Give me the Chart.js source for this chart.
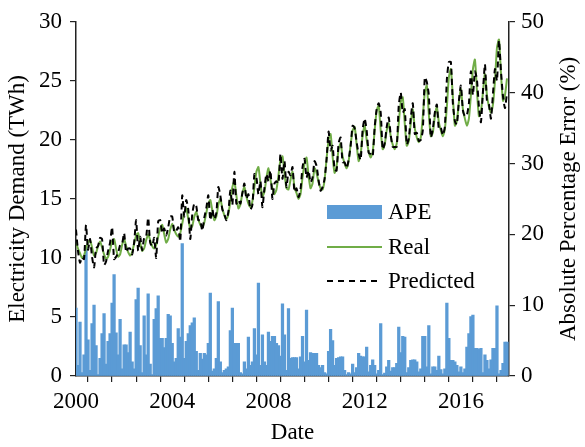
<!DOCTYPE html>
<html>
<head>
<meta charset="utf-8">
<script src="https://cdn.jsdelivr.net/npm/chart.js@4.4.1/dist/chart.umd.min.js"></script>
<style>
  html, body { margin: 0; padding: 0; background: #fff; }
  #wrap { width: 585px; height: 447px; }
</style>
</head>
<body>
<div id="wrap"><canvas id="demandChart" width="585" height="447"></canvas></div>
<script>
// monthly series, Jan 2000 .. Dec 2017 (one row per year)
const startYear = 2000;

const real = [
  11.3, 10.8, 10.4, 10.0, 10.2, 10.8, 11.3, 11.5, 10.9, 10.2, 10.4, 11.0,
  11.4, 10.9, 10.3, 9.9, 10.1, 10.7, 11.4, 11.6, 10.8, 10.1, 10.3, 11.1,
  11.6, 11.0, 10.5, 10.2, 10.5, 11.2, 11.9, 12.1, 11.3, 10.6, 10.8, 11.5,
  12.0, 11.5, 11.0, 10.8, 11.1, 11.8, 12.5, 12.8, 12.0, 11.3, 11.6, 12.4,
  12.9, 12.4, 12.0, 11.8, 12.1, 12.9, 13.8, 14.2, 13.3, 12.5, 12.7, 13.5,
  13.9, 13.3, 12.8, 12.6, 13.0, 13.8, 14.6, 14.9, 14.0, 13.2, 13.5, 14.5,
  15.0, 14.2, 13.6, 13.3, 13.7, 14.8, 16.0, 16.5, 15.3, 14.2, 14.5, 15.5,
  16.0, 15.2, 14.6, 14.3, 14.8, 16.0, 17.3, 17.7, 16.3, 15.2, 15.6, 16.8,
  17.6, 16.6, 15.9, 15.4, 15.8, 17.0, 18.3, 18.6, 17.2, 15.9, 15.8, 16.6,
  17.3, 16.0, 15.5, 15.0, 15.4, 16.8, 18.0, 18.5, 17.0, 15.9, 16.3, 17.6,
  17.2, 16.4, 15.9, 15.8, 16.6, 18.4, 20.0, 20.5, 18.6, 17.2, 17.8, 19.2,
  19.7, 18.6, 18.0, 17.6, 18.2, 19.6, 20.8, 21.1, 19.6, 18.2, 18.8, 20.4,
  21.2, 20.0, 19.0, 18.5, 19.0, 20.8, 22.5, 22.9, 20.8, 19.2, 19.6, 20.8,
  21.4, 20.3, 19.6, 19.2, 19.7, 21.4, 23.2, 23.6, 21.4, 19.5, 19.9, 21.4,
  22.6, 21.0, 20.2, 19.8, 20.2, 22.0, 24.0, 24.6, 22.2, 20.3, 20.6, 22.0,
  22.8, 21.5, 20.8, 20.3, 20.9, 22.8, 25.3, 26.0, 23.6, 21.2, 21.6, 23.2,
  24.3, 22.6, 21.8, 21.2, 21.8, 23.8, 26.0, 26.8, 24.2, 22.0, 22.4, 24.0,
  25.6, 23.8, 22.8, 22.3, 23.0, 25.0, 27.8, 28.5, 25.6, 23.3, 23.8, 25.2
];

const predicted = [
  12.4, 10.6, 9.6, 10.05, 9.9, 12.8, 10.7, 11.6, 10.1, 9.2, 10.8, 11.0,
  11.7, 11.6, 9.4, 9.7, 10.6, 11.3, 12.6, 9.9, 10.1, 10.4, 11.1, 11.2,
  12.1, 10.5, 10.8, 10.8, 10.3, 11.3, 13.2, 10.6, 11.8, 10.65, 11.7, 11.8,
  13.4, 11.3, 11.0, 11.7, 10.0, 13.1, 13.2, 12.1, 12.5, 11.9, 12.6, 13.5,
  13.5, 12.2, 12.3, 12.6, 11.4, 15.3, 13.5, 14.9, 14.1, 11.6, 13.7, 14.6,
  14.4, 13.2, 13.2, 12.3, 13.4, 14.2, 15.3, 13.2, 14.1, 13.3, 13.8, 16.0,
  15.3, 14.1, 13.7, 13.2, 13.9, 15.7, 14.5, 17.3, 14.6, 14.9, 14.6, 15.5,
  16.3, 15.0, 15.4, 14.1, 14.5, 17.1, 16.8, 15.4, 16.5, 14.3, 15.9, 17.1,
  16.5, 17.4, 15.0, 16.3, 16.5, 16.3, 18.8, 16.7, 18.2, 16.0, 17.3, 17.0,
  17.7, 15.6, 15.9, 15.15, 15.8, 17.7, 18.4, 16.8, 17.4, 16.4, 16.8, 18.2,
  17.8, 16.6, 15.7, 16.0, 16.7, 18.35, 20.7, 19.1, 19.5, 17.5, 17.4, 19.7,
  20.2, 18.1, 18.1, 17.6, 18.3, 19.5, 21.2, 21.0, 19.8, 18.8, 18.3, 20.9,
  21.8, 20.8, 18.9, 18.8, 18.6, 21.1, 22.6, 23.1, 22.3, 19.2, 19.7, 21.1,
  21.9, 20.4, 19.4, 19.4, 19.4, 22.9, 24.0, 22.3, 22.6, 19.6, 20.1, 21.9,
  23.1, 20.5, 20.6, 19.9, 20.0, 20.8, 25.3, 24.9, 23.8, 20.2, 20.9, 22.3,
  23.0, 20.9, 21.0, 20.4, 21.1, 25.1, 26.6, 26.6, 23.1, 21.6, 21.3, 23.3,
  24.6, 22.5, 22.0, 22.1, 23.1, 25.8, 23.8, 25.8, 25.1, 22.8, 21.5, 24.1,
  26.4, 23.3, 23.0, 21.8, 23.9, 26.0, 25.0, 28.4, 25.8, 23.7, 22.7, 24.0
];

// absolute percentage error (%)
const ape = [
  9.6, 1.5, 7.6, 0.5, 3.0, 18.2, 5.1, 0.8, 7.4, 10.0, 4.3, 0.2,
  2.5, 6.0, 8.8, 1.7, 4.9, 6.0, 10.3, 14.3, 6.1, 3.0, 8.0, 1.0,
  4.4, 4.4, 3.3, 6.2, 2.0, 1.0, 10.8, 12.4, 4.3, 0.5, 8.5, 3.0,
  11.6, 1.7, 0.2, 8.0, 9.5, 11.3, 5.3, 5.3, 4.0, 5.3, 8.7, 8.5,
  4.6, 2.0, 2.5, 6.7, 5.5, 18.7, 2.5, 4.9, 6.0, 7.1, 7.5, 8.2,
  3.5, 0.8, 3.2, 2.4, 3.2, 3.0, 4.6, 11.7, 0.7, 1.0, 2.5, 10.5,
  2.0, 0.5, 0.8, 1.0, 1.3, 6.4, 9.6, 4.6, 4.6, 4.6, 0.5, 0.3,
  2.0, 1.0, 5.5, 1.5, 2.0, 6.7, 3.0, 13.1, 1.5, 5.8, 2.0, 1.5,
  6.2, 4.9, 5.6, 5.6, 4.6, 4.3, 2.8, 10.2, 5.8, 0.8, 9.5, 2.5,
  2.6, 2.6, 2.6, 1.0, 2.7, 5.6, 2.0, 9.3, 2.2, 3.3, 3.2, 3.2,
  3.2, 1.5, 1.2, 1.5, 0.5, 0.3, 3.5, 6.6, 5.0, 1.5, 2.5, 2.6,
  2.7, 2.7, 0.8, 0.2, 0.5, 0.3, 1.7, 0.5, 1.2, 3.2, 2.8, 2.7,
  2.7, 4.1, 0.6, 1.5, 2.3, 1.5, 0.3, 0.8, 7.4, 0.2, 0.4, 1.3,
  2.2, 0.7, 1.2, 1.2, 1.8, 6.9, 3.3, 5.6, 5.5, 0.5, 1.2, 2.2,
  2.3, 2.3, 2.0, 0.6, 1.0, 5.6, 5.6, 1.3, 7.1, 0.3, 1.3, 1.3,
  0.8, 2.8, 0.9, 0.3, 1.0, 10.3, 5.3, 2.2, 2.2, 2.0, 1.5, 0.6,
  1.3, 0.5, 1.0, 4.1, 6.0, 8.4, 8.6, 3.9, 3.9, 3.8, 3.9, 0.5,
  3.0, 2.2, 1.0, 2.3, 3.9, 3.9, 9.9, 0.3, 0.8, 1.8, 4.8, 4.8
];

const legendLabels = ['APE', 'Real', 'Predicted'];
const rightTitle = 'Absolute Percentage Error (%)';

const blue = '#5B9BD5';
const green = '#70AD47';
const axisColor = '#222';
const serif = "'Liberation Serif', 'Times New Roman', serif";
const fontSize = 23;

// x position of each month in decimal years
const dates = real.map((_, i) => startYear + i / 12);
const toPoints = arr => arr.map((v, i) => ({ x: dates[i], y: v }));

// legend inside the plot + right axis title reading bottom to top
const extras = {
    id: 'extras',
    afterDraw(chart) {
        const ctx = chart.ctx;
        const x0 = 327, x1 = 382, tx = 388;
        const rows = [212, 247, 281];
        ctx.save();
        ctx.font = fontSize + 'px ' + serif;
        ctx.textBaseline = 'middle';

        ctx.fillStyle = blue;
        ctx.fillRect(x0, rows[0] - 7, x1 - x0, 14);

        ctx.strokeStyle = green;
        ctx.lineWidth = 2;
        ctx.beginPath();
        ctx.moveTo(x0, rows[1]);
        ctx.lineTo(x1, rows[1]);
        ctx.stroke();

        ctx.strokeStyle = '#000';
        ctx.setLineDash([6, 5]);
        ctx.beginPath();
        ctx.moveTo(x0, rows[2]);
        ctx.lineTo(x1, rows[2]);
        ctx.stroke();
        ctx.setLineDash([]);

        ctx.fillStyle = '#000';
        legendLabels.forEach((t, i) => ctx.fillText(t, tx, rows[i] + 1));

        const area = chart.chartArea;
        ctx.translate(569, (area.top + area.bottom) / 2);
        ctx.rotate(-Math.PI / 2);
        ctx.textAlign = 'center';
        ctx.fillText(rightTitle, 0, 0);
        ctx.restore();
    }
};

const ctxDemand = document.getElementById('demandChart').getContext('2d');
const demandChart = new Chart(ctxDemand, {
    type: 'bar',
    data: {
        datasets: [
            {
                type: 'line',
                label: 'Predicted',
                data: toPoints(predicted),
                yAxisID: 'y',
                borderColor: '#000',
                borderWidth: 2,
                borderDash: [6, 4],
                pointRadius: 0,
                tension: 0.2,
                order: 1
            },
            {
                type: 'line',
                label: 'Real',
                data: toPoints(real),
                yAxisID: 'y',
                borderColor: green,
                borderWidth: 2,
                pointRadius: 0,
                tension: 0.2,
                order: 2
            },
            {
                type: 'bar',
                label: 'APE',
                data: toPoints(ape),
                yAxisID: 'y2',
                backgroundColor: blue,
                barThickness: 2.6,
                order: 3
            }
        ]
    },
    options: {
        responsive: false,
        animation: false,
        layout: { padding: { top: 17 } },
        plugins: {
            legend: { display: false },
            tooltip: { enabled: false }
        },
        scales: {
            x: {
                type: 'linear',
                min: 2000,
                max: 2018,
                offset: false,
                grid: { drawOnChartArea: false, tickLength: 6, color: axisColor, lineWidth: 1.2 },
                border: { color: axisColor, width: 1.5 },
                ticks: {
                    stepSize: 1,
                    autoSkip: false,
                    maxRotation: 0,
                    color: '#000',
                    font: { family: serif, size: fontSize },
                    padding: 6,
                    callback: v => (v % 4 === 0 && v < 2018 ? String(v) : '')
                },
                title: {
                    display: true,
                    text: 'Date',
                    color: '#000',
                    font: { family: serif, size: fontSize },
                    padding: { top: 0, bottom: 0 }
                },
                afterFit: s => { s.height = 71; }
            },
            y: {
                position: 'left',
                min: 0,
                max: 30,
                grid: { drawOnChartArea: false, tickLength: 6, color: axisColor, lineWidth: 1.2 },
                border: { color: axisColor, width: 1.5 },
                ticks: {
                    stepSize: 5,
                    color: '#000',
                    font: { family: serif, size: fontSize },
                    padding: 8
                },
                title: {
                    display: true,
                    text: 'Electricity Demand (TWh)',
                    color: '#000',
                    font: { family: serif, size: fontSize },
                    padding: { top: 4, bottom: 4 }
                },
                afterFit: s => { s.width = 76; }
            },
            y2: {
                position: 'right',
                min: 0,
                max: 50,
                grid: { drawOnChartArea: false, tickLength: 6, color: axisColor, lineWidth: 1.2 },
                border: { color: axisColor, width: 1.5 },
                ticks: {
                    stepSize: 10,
                    color: '#000',
                    font: { family: serif, size: fontSize },
                    padding: 6
                },
                afterFit: s => { s.width = 76; }
            }
        }
    },
    plugins: [extras]
});
</script>
</body>
</html>
